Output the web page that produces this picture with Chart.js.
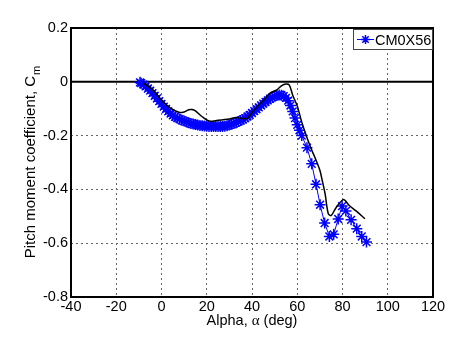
<!DOCTYPE html>
<html>
<head>
<meta charset="utf-8">
<script src="https://cdn.jsdelivr.net/npm/chart.js@4.4.1/dist/chart.umd.min.js"></script>
<style>
  html, body { margin: 0; padding: 0; background: #fff; }
  #wrap { width: 462px; height: 340px; position: relative; }
</style>
</head>
<body>
<div id="wrap"><canvas id="chart1"></canvas></div>
<script>
// CM0X56 (blue asterisks)
const alphaBlue = [-9.5, -9, -8, -7, -6, -5, -4, -3, -2, -1, 0, 1, 2, 3, 4, 5, 6, 7, 8, 9, 10,
  11, 12, 13, 14, 15, 16, 17, 18, 19, 20, 21, 22, 23, 24, 25, 26, 27, 28, 29, 30,
  31, 32, 33, 34, 35, 36, 37, 38, 39, 40, 41, 42, 43, 44, 45, 46, 47, 48, 49, 50,
  51, 52, 53, 54, 55, 56, 57, 58, 59, 60, 61, 62,
  64.3, 66.4, 68.3, 70.1, 72.1, 74.2, 76.1, 78.1, 79.8, 81.5, 83.8, 86.3, 88.5, 90.6];
const cmBlue = [-0.002, -0.005, -0.010, -0.017, -0.025, -0.033, -0.042, -0.052, -0.062, -0.072, -0.082,
  -0.092, -0.101, -0.110, -0.118, -0.125, -0.130, -0.135, -0.139, -0.143, -0.146,
  -0.149, -0.152, -0.155, -0.157, -0.159, -0.161, -0.162, -0.163, -0.164, -0.165,
  -0.166, -0.166, -0.166, -0.166, -0.166, -0.166, -0.166, -0.165, -0.163, -0.161,
  -0.158, -0.155, -0.152, -0.148, -0.144, -0.140, -0.135, -0.129, -0.123, -0.116,
  -0.109, -0.102, -0.095, -0.088, -0.081, -0.075, -0.069, -0.063, -0.058, -0.054,
  -0.051, -0.049, -0.050, -0.053, -0.060, -0.070, -0.088, -0.110, -0.135, -0.160,
  -0.180, -0.200,
  -0.245, -0.305, -0.381, -0.457, -0.525, -0.575, -0.567, -0.510, -0.462, -0.480, -0.513, -0.546, -0.575, -0.596];

// second curve (black solid line)
const alphaBlack = [-8, -4, 0, 4, 8, 10, 12, 13.5, 15, 18, 21, 25, 30, 33, 36, 38, 40, 42, 45, 48,
  51, 53, 55, 56.5, 58, 60, 62, 64.2, 66.4, 68, 70, 71, 72.3, 73.7, 75, 77, 80.4, 83, 86, 89.9];
const cmBlack = [-0.005, -0.028, -0.068, -0.098, -0.114, -0.112, -0.104, -0.103, -0.108, -0.130,
  -0.146, -0.143, -0.138, -0.133, -0.137, -0.135, -0.115, -0.095, -0.070, -0.042,
  -0.030, -0.015, -0.008, -0.012, -0.050, -0.090, -0.150, -0.205, -0.254, -0.285,
  -0.329, -0.365, -0.416, -0.490, -0.497, -0.470, -0.438, -0.460, -0.480, -0.509];

// zero reference line
const alphaZero = [-40, 120];
const cmZero = [0, 0];

const seriesLabel = 'CM0X56';
const xTitle = ['Alpha, ', '\u03b1', ' (deg)'];
const yTitle = ['Pitch moment coefficient, C', 'm'];

const pts = (xs, ys) => xs.map((x, i) => ({ x, y: ys[i] }));
const FONT = '"Liberation Sans", Arial, sans-serif';

const extras = {
  id: 'extras',
  afterDraw(chart) {
    const { ctx, chartArea: a } = chart;
    ctx.save();
    // axes box
    ctx.strokeStyle = '#000';
    ctx.lineWidth = 2;
    ctx.strokeRect(a.left, a.top, a.right - a.left, a.bottom - a.top);

    // x title with greek alpha
    ctx.fillStyle = '#000';
    ctx.textBaseline = 'middle';
    const f1 = '14.5px ' + FONT, f2 = '15px "Liberation Serif", serif';
    ctx.font = f1; const w0 = ctx.measureText(xTitle[0]).width;
    ctx.font = f2; const w1 = ctx.measureText(xTitle[1]).width;
    ctx.font = f1; const w2 = ctx.measureText(xTitle[2]).width;
    let x = (a.left + a.right) / 2 - (w0 + w1 + w2) / 2;
    const y = 321;
    ctx.textAlign = 'left';
    ctx.font = f1; ctx.fillText(xTitle[0], x, y); x += w0;
    ctx.font = f2; ctx.fillText(xTitle[1], x, y); x += w1;
    ctx.font = f1; ctx.fillText(xTitle[2], x, y);

    // y title with subscript
    ctx.save();
    ctx.translate(31, (a.top + a.bottom) / 2);
    ctx.rotate(-Math.PI / 2);
    ctx.font = '15px ' + FONT;
    const m0 = ctx.measureText(yTitle[0]).width;
    ctx.font = '11px ' + FONT;
    const m1 = ctx.measureText(yTitle[1]).width;
    let tx = -(m0 + m1) / 2;
    ctx.font = '15px ' + FONT;
    ctx.fillText(yTitle[0], tx, 0);
    ctx.font = '11px ' + FONT;
    ctx.fillText(yTitle[1], tx + m0 + 1, 6);
    ctx.restore();

    // legend box
    const lx = 353, ly = 29, lw = 79, lh = 20;
    ctx.fillStyle = '#fff';
    ctx.fillRect(lx, ly, lw, lh);
    ctx.strokeStyle = '#444';
    ctx.lineWidth = 1;
    ctx.strokeRect(lx + 0.5, ly + 0.5, lw, lh);
    const cy = ly + lh / 2 + 0.5;
    ctx.strokeStyle = '#0000ff';
    ctx.beginPath(); ctx.moveTo(lx + 4, cy); ctx.lineTo(lx + 21, cy); ctx.stroke();
    ctx.lineWidth = 1.5;
    const cx = lx + 12.5, r = 4.5;
    ctx.beginPath();
    for (let k = 0; k < 4; k++) {
      const an = k * Math.PI / 4;
      ctx.moveTo(cx - r * Math.cos(an), cy - r * Math.sin(an));
      ctx.lineTo(cx + r * Math.cos(an), cy + r * Math.sin(an));
    }
    ctx.stroke();
    ctx.fillStyle = '#000';
    ctx.font = '14.5px ' + FONT;
    ctx.textAlign = 'left';
    ctx.fillText(seriesLabel, lx + 22, cy + 1);
    ctx.restore();
  }
};

new Chart(document.getElementById('chart1'), {
  type: 'scatter',
  data: {
    datasets: [
      {
        label: 'zero',
        data: pts(alphaZero, cmZero),
        showLine: true, borderColor: '#000', borderWidth: 2,
        pointRadius: 0, order: 3
      },
      {
        label: seriesLabel,
        data: pts(alphaBlue, cmBlue),
        showLine: true, borderColor: '#0000ff', borderWidth: 1,
        pointStyle: 'star', pointRadius: 5.5, pointBorderWidth: 1.5,
        pointBorderColor: '#0000ff', pointBackgroundColor: '#0000ff', order: 2
      },
      {
        label: 'line',
        data: pts(alphaBlack, cmBlack),
        showLine: true, borderColor: '#000', borderWidth: 1.5,
        pointRadius: 0, tension: 0.3, order: 1
      }
    ]
  },
  options: {
    responsive: true,
    maintainAspectRatio: false,
    animation: false,
    layout: { padding: { left: 0, right: 29, top: 28, bottom: 0 } },
    plugins: { legend: { display: false }, tooltip: { enabled: false } },
    scales: {
      x: {
        type: 'linear', min: -40, max: 120,
        ticks: { stepSize: 20, color: '#000', font: { family: FONT, size: 14.5 }, padding: 1, maxRotation: 0 },
        grid: { color: '#666', lineWidth: 1, drawTicks: false },
        border: { display: false, dash: [2, 3] },
        afterFit(s) { s.height = 43; }
      },
      y: {
        type: 'linear', min: -0.8, max: 0.2,
        ticks: { stepSize: 0.2, color: '#000', font: { family: FONT, size: 14.5 }, padding: 3,
          callback: v => (Math.abs(v) < 1e-9 ? '0' : String(Math.round(v * 10) / 10)) },
        grid: { color: '#666', lineWidth: 1, drawTicks: false },
        border: { display: false, dash: [2, 3] },
        afterFit(s) { s.width = 71; }
      }
    }
  },
  plugins: [extras]
});
</script>
</body>
</html>
